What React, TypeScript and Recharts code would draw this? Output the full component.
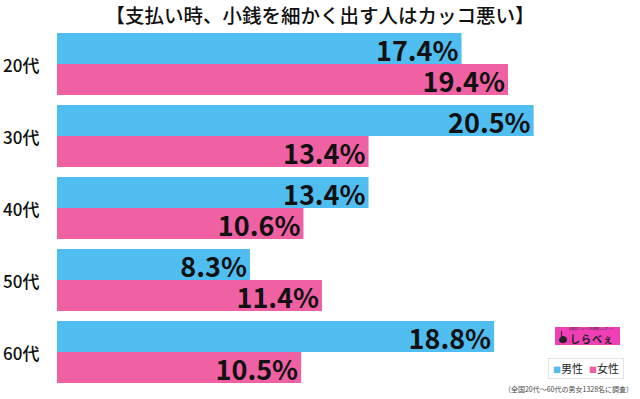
import React from "react";
import { BarChart, Bar, XAxis, YAxis, LabelList } from "recharts";

const categories = ["20代", "30代", "40代", "50代", "60代"];
const maleValues = [17.4, 20.5, 13.4, 8.3, 18.8];
const femaleValues = [19.4, 13.4, 10.6, 11.4, 10.5];
const seriesNames = ["男性", "女性"];
const title = "【支払い時、小銭を細かく出す人はカッコ悪い】";
const footnote = "（全国20代～60代の男女1328名に調査）";
const logoText = "しらべぇ";
const logoTagline = "話題のニュースを調査しレポート";

const BLUE = "#50BDF1";
const PINK = "#EF61A2";
const FONT = "'Noto Sans CJK JP', 'Noto Sans', sans-serif";

const data = categories.map((c, i) => ({
  name: c,
  male: maleValues[i],
  female: femaleValues[i],
}));

const ValueLabel = (props: any) => {
  const { x, y, width, height, value } = props;
  return (
    <text
      x={x + width - 3}
      y={y + height / 2 + 1}
      textAnchor="end"
      dominantBaseline="central"
      fontSize={27}
      fontWeight={700}
      fontFamily={FONT}
      fill="#111"
    >
      {`${value}%`}
    </text>
  );
};

const YTick = (props: any) => {
  const { y, payload } = props;
  return (
    <text
      x={3}
      y={y}
      textAnchor="start"
      dominantBaseline="central"
      fontSize={17}
      fontWeight={500}
      fontFamily={FONT}
      fill="#111"
    >
      {payload.value}
    </text>
  );
};

export default function App() {
  return (
    <div
      style={{
        position: "fixed",
        left: 0,
        top: 0,
        width: 640,
        height: 399,
        background: "#fff",
        fontFamily: FONT,
      }}
    >
      <div
        style={{
          position: "absolute",
          left: 0,
          top: 3,
          width: 640,
          textAlign: "center",
          fontSize: 19.5,
          fontWeight: 500,
          color: "#111",
          lineHeight: "24px",
        }}
      >
        {title}
      </div>
      <BarChart
        width={640}
        height={399}
        data={data}
        layout="vertical"
        margin={{ top: 28, right: 25, bottom: 11, left: 0 }}
        barCategoryGap={5}
        barGap={0}
      >
        <XAxis type="number" domain={[0, 24]} hide />
        <YAxis
          type="category"
          dataKey="name"
          width={57}
          axisLine={false}
          tickLine={false}
          tick={<YTick />}
        />
        <Bar dataKey="male" name={seriesNames[0]} fill={BLUE} isAnimationActive={false}>
          <LabelList dataKey="male" content={<ValueLabel />} />
        </Bar>
        <Bar dataKey="female" name={seriesNames[1]} fill={PINK} isAnimationActive={false}>
          <LabelList dataKey="female" content={<ValueLabel />} />
        </Bar>
      </BarChart>
      <div
        style={{
          position: "absolute",
          left: 555,
          top: 327,
          width: 65,
          height: 18,
          background: "#EE3FB4",
          overflow: "hidden",
        }}
      >
        <div
          style={{
            position: "absolute",
            left: 14,
            top: 1,
            fontSize: 3,
            lineHeight: "3px",
            color: "#333",
            whiteSpace: "nowrap",
          }}
        >
          {logoTagline}
        </div>
        <svg width={10} height={12} style={{ position: "absolute", left: 3, top: 4 }}>
          <path d="M3 0 L4 0 L4 5 Q9 5 9 9 Q9 12 5 12 Q1 12 1 9 Q1 7 3 6 Z" fill="#222" />
        </svg>
        <div
          style={{
            position: "absolute",
            left: 15,
            top: 6,
            fontSize: 10,
            lineHeight: "11px",
            fontWeight: 700,
            letterSpacing: 1,
            color: "#222",
            whiteSpace: "nowrap",
          }}
        >
          {logoText}
        </div>
      </div>
      <div
        style={{
          position: "absolute",
          left: 548,
          top: 358,
          width: 76,
          height: 21,
          border: "1px solid #e2e2e2",
          boxSizing: "border-box",
          fontSize: 11,
          lineHeight: "19px",
          color: "#222",
          textAlign: "center",
          whiteSpace: "nowrap",
        }}
      >
        <span style={{ color: BLUE, fontSize: 8 }}>■</span>
        {seriesNames[0]}
        <span style={{ display: "inline-block", width: 6 }} />
        <span style={{ color: PINK, fontSize: 8 }}>■</span>
        {seriesNames[1]}
      </div>
      <div
        style={{
          position: "absolute",
          left: 500,
          top: 385,
          width: 137,
          textAlign: "center",
          fontSize: 7,
          lineHeight: "9px",
          color: "#444",
          whiteSpace: "nowrap",
        }}
      >
        {footnote}
      </div>
    </div>
  );
}
